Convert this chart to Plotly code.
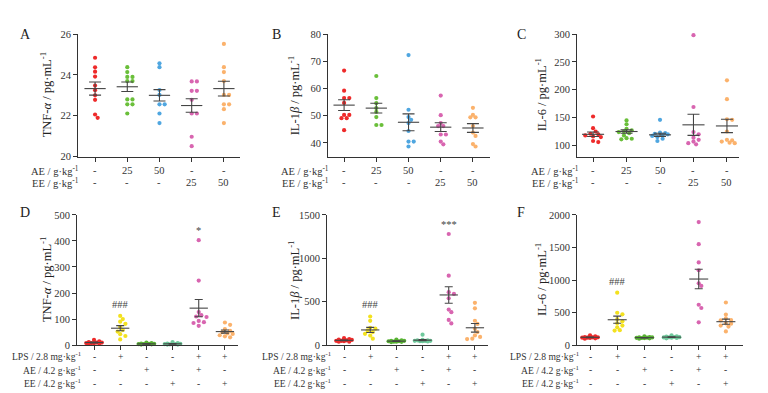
import plotly.graph_objects as go

W, H = 768, 393
FONT = "Liberation Serif"

# ---------------- data ----------------
top_ae = ["-", "25", "50", "-", "-"]
top_ee = ["-", "-", "-", "25", "50"]
bot_lps = ["-", "+", "-", "-", "+", "+"]
bot_ae = ["-", "-", "+", "-", "+", "-"]
bot_ee = ["-", "-", "-", "+", "-", "+"]

top_colors = ["#ee2a2a", "#6abf3a", "#4fa6e0", "#d865b0", "#fbb26c"]
bot_colors = ["#ee2a2a", "#f3e11f", "#58b233", "#6fc99c", "#d865b0", "#fbb26c"]

A_vals = [
    [24.84, 24.37, 24.16, 23.92, 23.48, 23.25, 23.0, 22.78, 22.06, 21.9],
    [24.38, 24.14, 23.9, 23.9, 23.7, 23.7, 22.8, 22.8, 22.56, 22.56, 22.11],
    [24.57, 24.38, 23.26, 23.02, 22.56, 22.56, 22.11, 21.64],
    [23.68, 23.68, 23.22, 23.22, 22.78, 22.11, 22.11, 20.97, 20.51],
    [25.52, 24.38, 24.14, 23.7, 23.02, 23.02, 22.56, 22.56, 22.32, 21.64],
]
A_mean = [23.33, 23.42, 23.0, 22.5, 23.33]
A_sem = [0.32, 0.23, 0.28, 0.33, 0.36]

B_vals = [
    [66.6, 59.2, 56.5, 56.5, 54.7, 50.3, 50.3, 49.1, 49.1, 44.7],
    [64.6, 56.5, 54.6, 52.8, 51.4, 49.5, 46.6, 46.6],
    [72.3, 52.2, 49.5, 48.5, 47.3, 44.4, 40.5, 40.5, 38.7],
    [57.4, 50.2, 47.3, 46.2, 46.2, 43.1, 43.1, 40.5, 39.5],
    [52.9, 50.3, 49.4, 49.4, 46.2, 43.8, 42.6, 39.6, 38.7],
]
B_mean = [53.9, 52.8, 47.6, 45.8, 45.5]
B_sem = [2.0, 1.8, 3.1, 1.6, 1.6]

C_vals = [
    [152, 131, 125, 121, 120, 118, 116, 115, 108, 106],
    [145, 138, 130, 127, 125, 124, 122, 118, 113, 112, 111],
    [146, 123, 122, 121, 120, 119, 117, 115, 112, 108],
    [298, 169, 124, 120, 114, 110, 107, 104, 102],
    [217, 183, 147, 146, 125, 110, 109, 107, 105, 104],
]
C_mean = [120, 125, 119, 137, 135]
C_sem = [4, 3, 3, 19, 12]

D_vals = [
    [20, 15, 12, 10, 10, 8, 8, 7, 6, 5],
    [112, 100, 90, 82, 70, 58, 52, 42, 35, 22],
    [10, 8, 6, 5, 5, 4, 4, 3, 3, 2],
    [12, 8, 6, 5, 4, 4, 3, 3, 2, 2],
    [403, 248, 127, 115, 110, 108, 93, 88, 85, 74],
    [87, 78, 62, 55, 50, 45, 43, 38, 34, 30],
]
D_mean = [10, 65, 5, 5, 142, 52]
D_sem = [2, 10, 1, 1, 33, 6]

E_vals = [
    [80, 70, 65, 60, 55, 50, 50, 45, 40, 40],
    [330, 280, 200, 190, 170, 150, 130, 110, 75],
    [65, 55, 50, 50, 45, 45, 40, 40, 38, 35],
    [120, 60, 55, 55, 50, 50, 48, 45, 45, 42],
    [1280, 800, 610, 590, 540, 410, 380, 290, 250],
    [487, 424, 281, 244, 190, 150, 112, 95, 75, 70],
]
E_mean = [55, 175, 46, 57, 578, 200]
E_sem = [5, 30, 3, 7, 95, 50]

F_vals = [
    [150, 135, 125, 120, 120, 115, 115, 110, 105, 100],
    [806, 497, 473, 398, 365, 335, 300, 273, 230, 224],
    [135, 125, 120, 118, 115, 112, 110, 108, 105, 100],
    [150, 135, 130, 125, 122, 120, 118, 115, 110, 105],
    [1890, 1550, 1270, 1150, 950, 910, 620, 570, 350],
    [655, 470, 410, 385, 380, 335, 330, 300, 285, 210],
]
F_mean = [120, 390, 115, 123, 1015, 360]
F_sem = [5, 55, 3, 4, 150, 40]

SUP = "<sup>-1</sup>"
top_rows = [("AE / g·kg" + SUP, top_ae), ("EE / g·kg" + SUP, top_ee)]
bot_rows = [("LPS / 2.8 mg·kg" + SUP, bot_lps), ("AE / 4.2 g·kg" + SUP, bot_ae),
            ("EE / 4.2 g·kg" + SUP, bot_ee)]

panels = [
    dict(vals=A_vals, mean=A_mean, sem=A_sem, colors=top_colors, xpx=(70, 232), ypx=(21.7, 147.7),
         yr=[20, 26], tv=[20, 22, 24, 26], xr=[-0.53, 4.5], title="TNF-<i>α</i> / pg·mL" + SUP,
         tx=38, letter="A", lx=17, ly=22, rows=top_rows, rowy=[162, 174], labr=73, rfs=10.5,
         halfw=0.33, cap=6, sig=[]),
    dict(vals=B_vals, mean=B_mean, sem=B_sem, colors=top_colors, xpx=(320, 482), ypx=(21.7, 147.7),
         yr=[35, 80], tv=[40, 50, 60, 70, 80], xr=[-0.5, 4.53], title="IL-1<i>β</i> / pg·mL" + SUP,
         tx=286, letter="B", lx=268, ly=22, rows=top_rows, rowy=[162, 174], labr=323, rfs=10.5,
         halfw=0.33, cap=6, sig=[]),
    dict(vals=C_vals, mean=C_mean, sem=C_sem, colors=top_colors, xpx=(569, 731), ypx=(21.7, 147.7),
         yr=[80, 300], tv=[100, 150, 200, 250, 300], xr=[-0.48, 4.36], title="IL-6 / pg·mL" + SUP,
         tx=533, letter="C", lx=513, ly=22, rows=top_rows, rowy=[162, 174], labr=573, rfs=10.5,
         halfw=0.33, cap=6, sig=[]),
    dict(vals=D_vals, mean=D_mean, sem=D_sem, colors=bot_colors, xpx=(69, 230), ypx=(207.7, 341.7),
         yr=[0, 500], tv=[0, 100, 200, 300, 400, 500], xr=[-0.65, 5.5], title="TNF-<i>α</i> / pg·mL" + SUP,
         tx=38, letter="D", lx=17, ly=205, rows=bot_rows, rowy=[353, 367, 381], labr=75, rfs=9.6,
         halfw=0.35, cap=4, sig=[(1, 155, "###"), (4, 440, "*")]),
    dict(vals=E_vals, mean=E_mean, sem=E_sem, colors=bot_colors, xpx=(319, 480), ypx=(207.7, 341.7),
         yr=[0, 1500], tv=[0, 500, 1000, 1500], xr=[-0.65, 5.5], title="IL-1<i>β</i> / pg·mL" + SUP,
         tx=286, letter="E", lx=268, ly=205, rows=bot_rows, rowy=[353, 367, 381], labr=325, rfs=9.6,
         halfw=0.35, cap=4, sig=[(1, 470, "###"), (4, 1395, "***")]),
    dict(vals=F_vals, mean=F_mean, sem=F_sem, colors=bot_colors, xpx=(569, 735), ypx=(207.7, 341.7),
         yr=[0, 2000], tv=[0, 500, 1000, 1500, 2000], xr=[-0.48, 5.63], title="IL-6 / pg·mL" + SUP,
         tx=533, letter="F", lx=513, ly=205, rows=bot_rows, rowy=[353, 367, 381], labr=573, rfs=9.6,
         halfw=0.35, cap=4, sig=[(1, 970, "###"), (4, 2050, "***")]),
]


def fx(px):
    return px / W


def fy(py):
    return 1 - py / H


def swarm(vals, ppu, ppc, d=3.6, step=2.6, kmax=3):
    """compact beeswarm: returns x offsets (category units)"""
    order = sorted(range(len(vals)), key=lambda i: -vals[i])
    placed = []
    offs = [0.0] * len(vals)
    cands = [0.0]
    for k in range(1, kmax + 1):
        cands += [k * step, -k * step]
    for i in order:
        yp = vals[i] * ppu
        best, bestd = None, -1
        for c in cands:
            md = min([((c - a) ** 2 + (yp - b) ** 2) ** 0.5 for a, b in placed] or [99])
            if md >= d:
                best = c
                break
            if md > bestd:
                best, bestd = c, md
        placed.append((best, yp))
        offs[i] = best / ppc
    return offs


fig = go.Figure()
annotations = []
layout = {}
AX = "#333333"

for n, p in enumerate(panels):
    sfx = "" if n == 0 else str(n + 1)
    xa, ya = "x" + sfx, "y" + sfx
    ppu = (p["ypx"][1] - p["ypx"][0]) / (p["yr"][1] - p["yr"][0])
    ppc = (p["xpx"][1] - p["xpx"][0]) / (p["xr"][1] - p["xr"][0])
    ncat = len(p["vals"])
    for i, v in enumerate(p["vals"]):
        offs = swarm(v, ppu, ppc)
        fig.add_trace(go.Scatter(
            x=[i + o for o in offs], y=v, mode="markers", xaxis=xa, yaxis=ya,
            marker=dict(size=4.2, color=p["colors"][i], line=dict(width=0)),
            showlegend=False, hoverinfo="skip", cliponaxis=False))
    mean_size = p["halfw"] * ppc * 2 / 1.4
    fig.add_trace(go.Scatter(
        x=list(range(ncat)), y=p["mean"], mode="markers", xaxis=xa, yaxis=ya,
        marker=dict(symbol="line-ew-open", size=mean_size, color="#444444",
                    line=dict(width=1.1, color="#444444")),
        error_y=dict(type="data", array=p["sem"], visible=True, color="#444444",
                     thickness=1.1, width=p["cap"]),
        showlegend=False, hoverinfo="skip", cliponaxis=False))

    layout["xaxis" + sfx] = dict(
        domain=[fx(p["xpx"][0]), fx(p["xpx"][1])], range=p["xr"], anchor=ya,
        showline=True, linecolor=AX, linewidth=1, ticks="outside", ticklen=4,
        tickcolor=AX, tickwidth=1, tickvals=list(range(ncat)), showticklabels=False,
        showgrid=False, zeroline=False, fixedrange=True)
    layout["yaxis" + sfx] = dict(
        domain=[fy(p["ypx"][1]), fy(p["ypx"][0])], range=p["yr"], anchor=xa,
        showline=True, linecolor=AX, linewidth=1, ticks="outside", ticklen=4,
        tickcolor=AX, tickwidth=1, tickvals=p["tv"], showgrid=False, zeroline=False,
        tickfont=dict(family=FONT, size=10.5, color="#333333"), fixedrange=True)

    # y title
    annotations.append(dict(
        text=p["title"], textangle=-90, xref="paper", yref="paper",
        x=fx(p["tx"]), y=fy((p["ypx"][0] + p["ypx"][1]) / 2), xanchor="center", yanchor="middle",
        showarrow=False, font=dict(family=FONT, size=12.5, color="#222222")))
    # panel letter
    annotations.append(dict(
        text=p["letter"], xref="paper", yref="paper", x=fx(p["lx"]), y=fy(p["ly"]),
        xanchor="center", yanchor="middle", showarrow=False,
        font=dict(family=FONT, size=14, color="#222222")))
    # table rows
    for (lab, vals), ry in zip(p["rows"], p["rowy"]):
        annotations.append(dict(
            text=lab, xref="paper", yref="paper", x=fx(p["labr"]), y=fy(ry),
            xanchor="right", yanchor="middle", showarrow=False,
            font=dict(family=FONT, size=p["rfs"], color="#333333")))
        for i, t in enumerate(vals):
            annotations.append(dict(
                text=t, xref=xa, yref="paper", x=i, y=fy(ry),
                xanchor="center", yanchor="middle", showarrow=False,
                font=dict(family=FONT, size=p["rfs"], color="#333333")))
    # significance marks
    for ci, yv, t in p["sig"]:
        annotations.append(dict(
            text=t, xref=xa, yref=ya, x=ci, y=yv, xanchor="center", yanchor="middle",
            showarrow=False, font=dict(family=FONT, size=10.5, color="#444444")))

layout["annotations"] = annotations
fig.update_layout(**layout)
fig.update_layout(width=W, height=H, margin=dict(l=0, r=0, t=0, b=0),
                  paper_bgcolor="white", plot_bgcolor="white")

fig.write_html("out.html")
